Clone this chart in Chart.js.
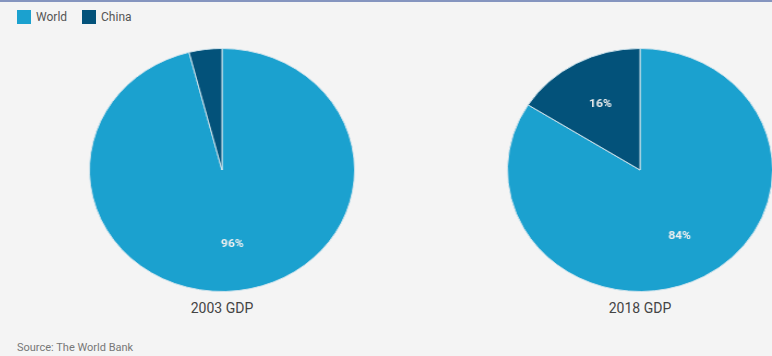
<!DOCTYPE html>
<html>
<head>
<meta charset="utf-8">
<script src="https://cdn.jsdelivr.net/npm/chart.js@4/dist/chart.umd.min.js"></script>
<style>
  html, body { margin: 0; padding: 0; }
  body { width: 772px; height: 356px; background: #f4f4f4; overflow: hidden; position: relative;
         font-family: Roboto, "Liberation Sans", sans-serif; border-top: 2px solid #8595bf; box-sizing: border-box; }
  .legend { position: absolute; left: 17px; top: 8px; font-size: 12px; color: #555; }
  .legend span.item { display: inline-block; margin-right: 15px; }
  .legend i { display: inline-block; width: 14px; height: 14px; vertical-align: -3px; margin-right: 5px; }
  .pie { position: absolute; top: 46px; width: 244px; height: 244px; transform: scaleX(1.091); transform-origin: center; }
  .title { position: absolute; top: 298px; width: 200px; text-align: center; font-size: 14px; color: #444; }
  .source { position: absolute; left: 17px; top: 339px; font-size: 11px; color: #777; }
</style>
</head>
<body>
<div class="legend" id="legend"></div>
<div class="pie" style="left:100px"><canvas id="pie1"></canvas></div>
<div class="pie" style="left:518px"><canvas id="pie2"></canvas></div>
<div class="title" id="t1" style="left:122px"></div>
<div class="title" id="t2" style="left:540px"></div>
<div class="source">Source: The World Bank</div>
<script>
  var categories = ['World', 'China'];
  var titles = ['2003 GDP', '2018 GDP'];
  var share2003 = [96, 4];
  var share2018 = [84, 16];
  var colors = ['#1ba1cf', '#03527a'];

  // legend
  var legend = document.getElementById('legend');
  categories.forEach(function (c, i) {
    var s = document.createElement('span');
    s.className = 'item';
    s.innerHTML = '<i style="background:' + colors[i] + '"></i>' + c;
    legend.appendChild(s);
  });
  document.getElementById('t1').textContent = titles[0];
  document.getElementById('t2').textContent = titles[1];

  // percent labels inside slices
  var pctLabels = {
    id: 'pctLabels',
    afterDatasetsDraw: function (chart) {
      var ctx = chart.ctx;
      var meta = chart.getDatasetMeta(0);
      var vals = chart.data.datasets[0].data;
      ctx.save();
      ctx.fillStyle = '#f0f0f0';
      ctx.font = 'bold 11px Roboto, sans-serif';
      ctx.textAlign = 'center';
      ctx.textBaseline = 'middle';
      meta.data.forEach(function (arc, i) {
        if (vals[i] < 5) return;
        var p = arc.getProps(['x', 'y', 'startAngle', 'endAngle', 'outerRadius'], true);
        var mid = (p.startAngle + p.endAngle) / 2;
        var r = p.outerRadius * 0.62;
        ctx.fillText(vals[i] + '%', p.x + Math.cos(mid) * r, p.y + Math.sin(mid) * r);
      });
      ctx.restore();
    }
  };

  function makePie(id, values) {
    new Chart(id, {
      type: 'pie',
      data: {
        labels: categories,
        datasets: [{
          data: values,
          backgroundColor: colors,
          borderColor: '#cfe3ec',
          borderWidth: 1
        }]
      },
      options: {
        responsive: true,
        maintainAspectRatio: false,
        animation: false,
        layout: { padding: 0 },
        plugins: { legend: { display: false }, tooltip: { enabled: false } }
      },
      plugins: [pctLabels]
    });
  }
  makePie('pie1', share2003);
  makePie('pie2', share2018);
</script>
</body>
</html>
